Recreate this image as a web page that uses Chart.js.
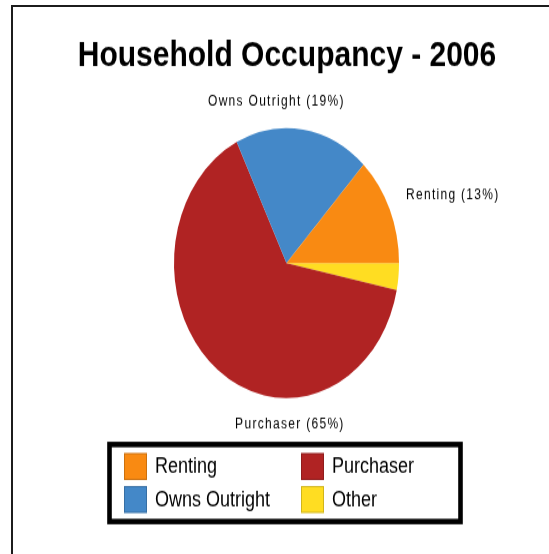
<!DOCTYPE html>
<html>
<head>
<meta charset="utf-8">
<script src="https://cdn.jsdelivr.net/npm/chart.js@4.4.1/dist/chart.umd.min.js"></script>
<style>
  html, body { margin:0; padding:0; background:#fff; overflow:hidden; }
  body { width:549px; height:554px; position:relative; }
  .frame { position:absolute; left:11px; top:5px; width:600px; height:600px;
           border-top:2px solid #1c1c1c; border-left:2px solid #1c1c1c; }
  /* the source image is stretched vertically, so the whole canvas is too */
  .stretch { position:absolute; left:0; top:0; width:549px; height:462px;
             transform:scaleY(1.2); transform-origin:0 0; }
</style>
</head>
<body>
<div class="frame"></div>
<div class="stretch"><canvas id="pie" width="549" height="462"></canvas></div>
<script>
// slices go clockwise from 3 o'clock
const categories = ["Other", "Purchaser", "Owns Outright", "Renting"];
const shares = [3.2, 64.5, 19.3, 13.0];
const sliceColors = ["#ffdd22", "#b02323", "#4488c8", "#f98a12"];
const legendOrder = ["Renting", "Purchaser", "Owns Outright", "Other"];
const titleText = "Household Occupancy - 2006";

// where the slice labels sit, in units of the radius from the pie centre
const labelSpots = {
  "Renting":       { dx: 1.062, dy: -0.504, align: "left" },
  "Owns Outright": { dx: -0.09, dy: -1.2,   align: "center" },
  "Purchaser":     { dx: 0.03,  dy: 1.192,  align: "center" }
};

const FONT = '"Liberation Sans", Arial, sans-serif';

const decorPlugin = {
  id: "decor",
  afterDraw(chart){
    const ctx = chart.ctx;
    const meta = chart.getDatasetMeta(0);
    const data = chart.data.datasets[0].data;
    ctx.save();

    // title
    ctx.fillStyle = "#000";
    ctx.font = `bold 30px ${FONT}`;
    ctx.textAlign = "center";
    ctx.textBaseline = "alphabetic";
    ctx.fillText(titleText, 287, 55);

    // slice labels
    ctx.font = `12px ${FONT}`;
    ctx.letterSpacing = "1.3px";
    ctx.textBaseline = "middle";
    chart.data.labels.forEach((name, i) => {
      const spot = labelSpots[name];
      if(!spot) return;
      const arc = meta.data[i];
      const r = arc.outerRadius;
      ctx.textAlign = spot.align;
      ctx.fillText(`${name} (${Math.round(data[i])}%)`, arc.x + spot.dx*r, arc.y + spot.dy*r);
    });
    ctx.letterSpacing = "0px";

    // legend box
    ctx.lineWidth = 4.6;
    ctx.strokeStyle = "#000";
    ctx.strokeRect(109.5, 370.4, 351, 64.2);

    const cols = [124, 301];
    const rows = [377.5, 405];
    ctx.font = `18px ${FONT}`;
    ctx.textAlign = "left";
    legendOrder.forEach((name, k) => {
      const i = chart.data.labels.indexOf(name);
      const x = cols[k % 2], y = rows[Math.floor(k / 2)];
      ctx.fillStyle = sliceColors[i];
      ctx.fillRect(x, y, 23, 22.5);
      ctx.strokeStyle = "rgba(0,0,0,0.18)";
      ctx.lineWidth = 1;
      ctx.strokeRect(x + 0.5, y + 0.5, 22, 21.5);
      ctx.fillStyle = "#000";
      ctx.fillText(name, x + 31, y + 12);
    });
    ctx.restore();
  }
};

new Chart(document.getElementById("pie"), {
  type: "pie",
  data: {
    labels: categories,
    datasets: [{
      data: shares,
      backgroundColor: sliceColors,
      borderWidth: 0,
      hoverOffset: 0
    }]
  },
  options: {
    responsive: false,
    animation: false,
    events: [],
    rotation: 90,
    radius: 112.5,
    layout: { padding: { left: 174, right: 150, top: 106.7, bottom: 130.3 } },
    plugins: {
      legend: { display: false },
      tooltip: { enabled: false },
      title: { display: false }
    }
  },
  plugins: [decorPlugin]
});
</script>
</body>
</html>
